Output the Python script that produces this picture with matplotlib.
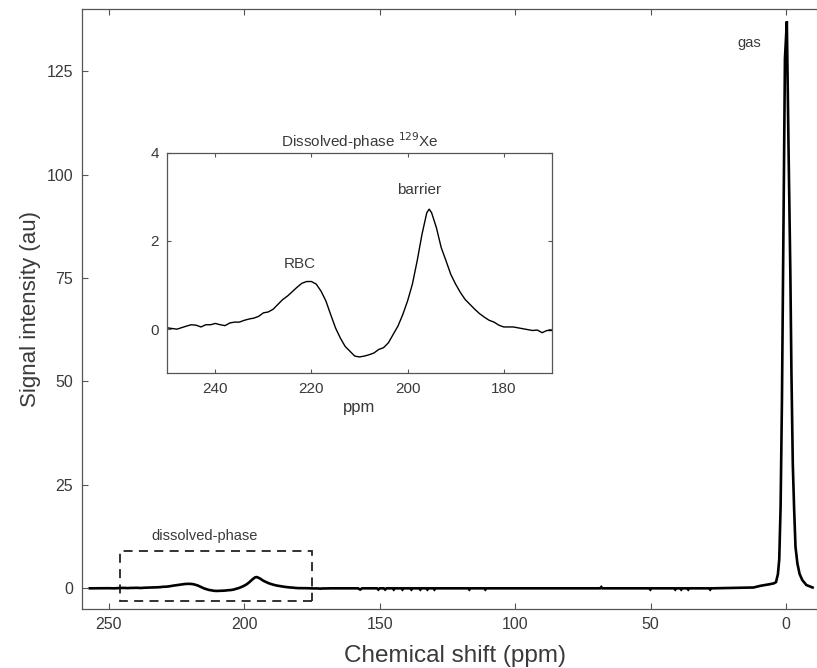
import matplotlib
matplotlib.use("Agg")
import matplotlib.pyplot as plt
from matplotlib.patches import Rectangle

plt.rcParams['font.family'] = ['Liberation Sans', 'DejaVu Sans']

# ---- Dissolved-phase spectrum (inset), ppm / signal ----
dis_ppm = [250, 248, 246, 245, 244, 243, 242, 241, 240, 239, 238, 237, 236, 235,
           234, 233, 232, 231, 230, 229, 228, 227, 226, 225, 224, 223, 222, 221,
           220, 219, 218, 217, 216, 215, 214, 213, 212, 211, 210, 209, 208, 207,
           206, 205, 204, 203, 202, 201, 200, 199, 198, 197, 196, 195.5, 195, 194,
           193, 192, 191, 190, 189, 188, 187, 186, 185, 184, 183, 182, 181, 180,
           179, 178, 177, 176, 175, 174, 173, 172, 171, 170]
dis_sig = [0.03, 0.0, 0.07, 0.10, 0.09, 0.05, 0.10, 0.10, 0.13, 0.10, 0.08, 0.14,
           0.16, 0.16, 0.20, 0.23, 0.25, 0.29, 0.37, 0.39, 0.45, 0.56, 0.67, 0.75,
           0.85, 0.95, 1.04, 1.08, 1.08, 1.02, 0.86, 0.64, 0.33, 0.03, -0.20, -0.39,
           -0.50, -0.61, -0.63, -0.61, -0.58, -0.54, -0.46, -0.42, -0.31, -0.12,
           0.07, 0.33, 0.64, 1.02, 1.55, 2.15, 2.64, 2.72, 2.64, 2.30, 1.85, 1.55,
           1.24, 1.02, 0.83, 0.67, 0.56, 0.45, 0.35, 0.27, 0.20, 0.16, 0.09, 0.05,
           0.05, 0.05, 0.03, 0.01, -0.01, -0.03, -0.02, -0.08, -0.03, -0.03]

# ---- Baseline before the dissolved region ----
base_left_ppm = [257, 252]
base_left_sig = [0.0, 0.02]

# ---- Baseline between dissolved region and gas peak (with small noise dips) ----
base_right_ppm = [168, 158, 157.2, 156.5, 151, 150.5, 150, 148.5, 148, 147.5,
                  145.2, 144.8, 144.4, 142, 141.6, 141.2, 138.7, 138.3, 137.9,
                  135.4, 135, 134.6, 132.8, 132.4, 132, 130.2, 129.8, 129.4,
                  117.3, 116.9, 116.5, 111.4, 111, 110.6, 68.6, 68.2, 67.8,
                  50.5, 50.1, 49.7, 41.3, 40.9, 40.5, 39.1, 38.7, 38.3, 36.5,
                  36.1, 35.7, 28.4, 28, 27.6, 12, 9.5, 6]
base_right_sig = [0.0, 0.0, -0.3, 0.0, 0.0, -0.3, 0.0, 0.0, -0.3, 0.0,
                  0.0, -0.3, 0.0, 0.0, -0.3, 0.0, 0.0, -0.3, 0.0,
                  0.0, -0.3, 0.0, 0.0, -0.3, 0.0, 0.0, -0.3, 0.0,
                  0.0, -0.3, 0.0, 0.0, -0.3, 0.0, 0.0, 0.3, 0.0,
                  0.0, -0.3, 0.0, 0.0, -0.3, 0.0, 0.0, -0.3, 0.0, 0.0,
                  -0.3, 0.0, 0.0, -0.3, 0.0, 0.2, 0.6, 1.0]

# ---- Gas-phase peak ----
gas_ppm = [4.5, 3.7, 3.0, 2.5, 2.0, 1.5, 0.85, 0.4, -0.3, -0.9, -1.6, -2.0,
           -2.5, -3.0, -3.5, -4.2, -5.0, -6.0, -7.5, -9.8]
gas_sig = [1.2, 1.5, 3.4, 7.0, 19.8, 45.6, 94.0, 128.0, 137.0, 107.7, 76.0,
           52.0, 30.0, 19.0, 10.0, 6.0, 3.5, 2.0, 0.8, 0.2]

main_xticks = [250, 200, 150, 100, 50, 0]
main_yticks = [0, 25, 50, 75, 100, 125]
inset_xticks = [240, 220, 200, 180]
inset_yticks = [0, 2, 4]

main_ppm = base_left_ppm + dis_ppm + base_right_ppm + gas_ppm
main_sig = base_left_sig + dis_sig + base_right_sig + gas_sig

TXT = '#3a3a3a'
SPN = '#555555'

fig = plt.figure(figsize=(8.17, 6.68), dpi=100)
ax = fig.add_axes([0.1, 0.0883, 0.9284, 0.8982])
ax.plot(main_ppm, main_sig, color='black', lw=1.9, solid_joinstyle='miter')
ax.set_xlim(260, -20)
ax.set_ylim(-5, 140)
ax.set_xticks(main_xticks)
ax.set_yticks(main_yticks)
ax.tick_params(direction='in', length=4, width=0.8, top=True, right=True,
               labelsize=11.5, colors=SPN, labelcolor=TXT, pad=6)
for s in ax.spines.values():
    s.set_color(SPN)
    s.set_linewidth(0.9)
ax.set_xlabel('Chemical shift (ppm)', fontsize=17.5, color=TXT, labelpad=7)
ax.xaxis.set_label_coords(0.492, -0.06)
ax.set_ylabel('Signal intensity (au)', fontsize=16, color=TXT, labelpad=4)

ax.add_patch(Rectangle((175, -3), 71, 12.1, fill=False, edgecolor='#222222',
                       lw=1.3, linestyle=(0, (5, 3.5))))
ax.text(214.8, 12.6, 'dissolved-phase', fontsize=10.5, color=TXT,
        ha='center', va='center')
ax.text(13.7, 131.8, 'gas', fontsize=10.5, color=TXT, ha='center', va='center')

# ---- Inset ----
ins = fig.add_axes([0.2048, 0.4412, 0.4705, 0.3302])
ins.plot(dis_ppm, dis_sig, color='black', lw=1.0)
ins.set_xlim(250, 170)
ins.set_ylim(-1, 4)
ins.set_xticks(inset_xticks)
ins.set_yticks(inset_yticks)
ins.tick_params(direction='in', length=3, width=0.8, top=True, right=True,
                labelsize=11, colors=SPN, labelcolor=TXT, pad=6)
for s in ins.spines.values():
    s.set_color(SPN)
    s.set_linewidth(0.9)
ins.set_xlabel('ppm', fontsize=12, color=TXT, labelpad=3)
ins.set_title('Dissolved-phase $^{129}$Xe', fontsize=11, color=TXT, pad=4)
ins.text(222.5, 1.47, 'RBC', fontsize=11, color=TXT, ha='center', va='center')
ins.text(197.5, 3.16, 'barrier', fontsize=11, color=TXT, ha='center', va='center')

fig.savefig('out.png', dpi=100)
